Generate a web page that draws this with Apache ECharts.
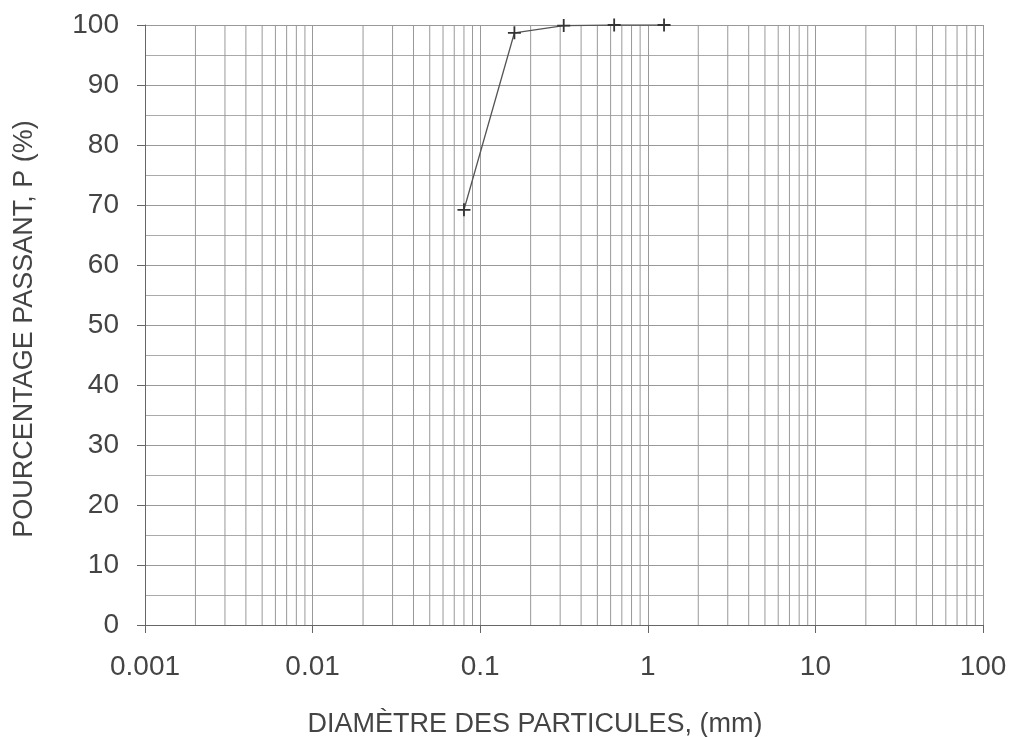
<!DOCTYPE html>
<html>
<head>
<meta charset="utf-8">
<script src="https://cdn.jsdelivr.net/npm/echarts@6/dist/echarts.min.js"></script>
<style>
  html, body { margin: 0; padding: 0; background: #fff; }
  #main { width: 1011px; height: 737px; }
</style>
</head>
<body>
<div id="main"></div>
<script>
// sieve sizes (mm) and percent passing
var diameters = [0.08, 0.16, 0.315, 0.63, 1.25];
var passing = [69.2, 98.7, 99.9, 100, 100];
var xTicks = [0.001, 0.01, 0.1, 1, 10, 100];

// log-cycle minor grid lines 2..9 in every decade, as broken line segments
var minorX = [];
for (var d = 0; d < xTicks.length - 1; d++) {
    for (var k = 2; k <= 9; k++) {
        var v = +(xTicks[d] * k).toPrecision(3);
        minorX.push([v, 0], [v, 100], [v, null]);
    }
}

var font = 'Liberation Sans';
var chart = echarts.init(document.getElementById('main'));
chart.setOption({
    animation: false,
    backgroundColor: '#fff',
    grid: {left: 145, right: 28, top: 25, bottom: 112, outerBoundsMode: 'none'},
    xAxis: {
        type: 'log',
        logBase: 10,
        min: 0.001,
        max: 100,
        name: 'DIAMÈTRE DES PARTICULES, (mm)',
        nameLocation: 'middle',
        nameGap: 86,
        nameTextStyle: {fontFamily: font, fontSize: 27, color: '#444', padding: [0, 58, 0, 0]},
        axisLine: {lineStyle: {color: '#666', width: 1}},
        axisTick: {show: true, length: 8, lineStyle: {color: '#666'}},
        axisLabel: {
            fontFamily: font, fontSize: 28, color: '#444', margin: 28,
            formatter: function (v) { return String(+v.toPrecision(3)); }
        },
        splitLine: {show: true, lineStyle: {color: '#999', width: 1}}
    },
    yAxis: {
        type: 'value',
        min: 0,
        max: 100,
        interval: 10,
        name: 'POURCENTAGE PASSANT, P (%)',
        nameLocation: 'middle',
        nameGap: 107,
        nameTextStyle: {fontFamily: font, fontSize: 27, color: '#444', padding: [0, 8, 0, 0]},
        axisLine: {show: true, lineStyle: {color: '#666', width: 1}},
        axisTick: {show: true, length: 8, lineStyle: {color: '#666'}},
        axisLabel: {fontFamily: font, fontSize: 28, color: '#444', margin: 26},
        splitLine: {show: true, lineStyle: {color: '#999', width: 1}},
        minorTick: {show: false, splitNumber: 2},
        minorSplitLine: {show: true, lineStyle: {color: '#aaa', width: 1}}
    },
    series: [{
        type: 'line',
        data: minorX,
        silent: true,
        showSymbol: false,
        symbol: 'none',
        connectNulls: false,
        lineStyle: {color: '#999', width: 1},
        z: 1
    }, {
        type: 'line',
        data: diameters.map(function (x, i) { return [x, passing[i]]; }),
        symbol: 'path://M0,5L10,5M5,0L5,10',
        symbolSize: 13,
        itemStyle: {color: 'transparent', borderColor: '#333', borderWidth: 1.8},
        lineStyle: {color: '#555', width: 1.3},
        z: 5
    }]
});
</script>
</body>
</html>
